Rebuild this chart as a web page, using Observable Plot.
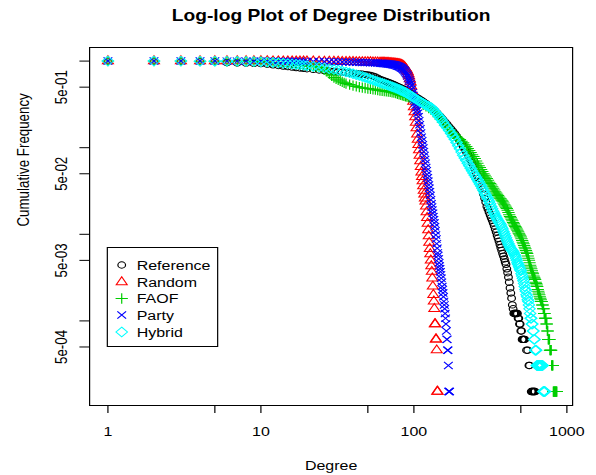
<!DOCTYPE html>
<html><head><meta charset="utf-8">
<script src="https://cdn.jsdelivr.net/npm/d3@7"></script>
<script src="https://cdn.jsdelivr.net/npm/@observablehq/plot@0.6"></script>
<style>
html,body{margin:0;padding:0;background:#fff;}
#wrap{position:relative;width:497px;height:475px;transform:scaleX(1.1992);transform-origin:0 0;font-family:"Liberation Sans",Arial,Helvetica,sans-serif;}
#legend{position:absolute;left:89.2px;top:247px;width:92.6px;height:100px;border:1px solid #000;box-sizing:border-box;background:#fff;}
#legend svg{display:block;}
</style></head><body><div id="wrap"></div>
<script>
const titleText = "Log-log Plot of Degree Distribution";
const xLabel = "Degree";
const yLabel = "Cumulative Frequency";
const xTicks = [1, 5, 10, 50, 100, 500, 1000];
const yTicks = [1, 0.5, 0.1, 0.05, 0.01, 0.005, 0.001, 0.0005];
const yLabelValues = [0.5, 0.05, 0.005, 0.0005];
const yLabelTexts = ["5e-01", "5e-02", "5e-03", "5e-04"];
const seriesNames = ["Reference", "Random", "FAOF", "Party", "Hybrid"];
const seriesColors = ["#000000", "#ff0000", "#00cd00", "#0000ff", "#00ffff"];
const seriesSymbols = ["circle", "triangle", "plus", "times", "diamond2"];
const seriesRadius = [3.2, 3.4, 3.4, 3.4, 4.3];

// [degree, cumulative frequency]
const reference = [[1,1],[2,0.998],[3,0.995],[4,0.99],[5,0.984],[6,0.96],[7,0.952],[8,0.946],[9,0.94],[10,0.934],[11,0.92],[12,0.905],[13,0.89],[14,0.876],[15,0.863],[16,0.851],[17,0.841],[18,0.832],[19,0.824],[20,0.816],[22,0.802],[24,0.79],[26,0.778],[28,0.768],[30,0.758],[32,0.75],[34,0.743],[36,0.735],[38,0.728],[40,0.722],[42,0.716],[44,0.71],[46,0.704],[48,0.698],[50,0.691],[52,0.683],[54,0.671],[56,0.655],[58,0.636],[60,0.615],[62,0.603],[64,0.591],[66,0.579],[68,0.567],[70,0.555],[72,0.544],[74,0.533],[76,0.522],[78,0.511],[80,0.5],[82,0.49],[84,0.48],[86,0.47],[88,0.46],[90,0.45],[92,0.44],[94,0.43],[96,0.42],[98,0.41],[100,0.4],[103,0.387],[106,0.374],[109,0.362],[112,0.351],[115,0.34],[118,0.329],[121,0.319],[124,0.309],[127,0.3],[130,0.29],[133,0.28],[136,0.27],[139,0.26],[142,0.25],[145,0.24],[148,0.231],[151,0.222],[155,0.211],[160,0.198],[165,0.186],[170,0.174],[175,0.164],[180,0.154],[185,0.145],[190,0.136],[195,0.127],[200,0.119],[205,0.111],[210,0.103],[215,0.096],[220,0.09],[225,0.084],[230,0.078],[235,0.072],[240,0.067],[245,0.062],[250,0.057],[255,0.052],[260,0.048],[265,0.044],[270,0.04],[275,0.036],[280,0.033],[285,0.029],[290,0.026],[295,0.0235],[300,0.021],[305,0.0195],[310,0.018],[315,0.0167],[320,0.0155],[325,0.0145],[330,0.0135],[335,0.0125],[340,0.0115],[345,0.0106],[350,0.0097],[355,0.009],[360,0.0083],[365,0.0076],[370,0.007],[375,0.0065],[380,0.006],[385,0.0056],[390,0.0052],[395,0.0048],[400,0.0045],[405,0.004],[410,0.0036],[415,0.0032],[420,0.0028],[425,0.0024],[430,0.0021],[435,0.00183],[440,0.00153],[445,0.00138],[450,0.00122],[454,0.00122],[458,0.00122],[462,0.00122],[466,0.00122],[470,0.00122],[475,0.00122],[480,0.00107],[485,0.00107],[490,0.00092],[495,0.00092],[500,0.000765],[505,0.000765],[510,0.000612],[514,0.000612],[518,0.000612],[522,0.000612],[526,0.000612],[530,0.000612],[545,0.000459],[555,0.000459],[565,0.000306],[570,0.000306],[585,0.000153],[590,0.000153],[595,0.000153],[600,0.000153],[605,0.000153],[610,0.000153],[615,0.000153],[620,0.000153]];

const random = [[1,1],[2,1],[3,1],[4,1],[5,1],[6,0.999],[7,0.999],[8,0.999],[9,0.998],[10,0.998],[11,0.998],[12,0.997],[13,0.997],[14,0.996],[15,0.996],[16,0.995],[17,0.995],[18,0.994],[19,0.994],[20,0.993],[22,0.992],[24,0.99],[26,0.989],[28,0.988],[30,0.986],[32,0.985],[34,0.984],[36,0.982],[38,0.981],[40,0.98],[42,0.978],[44,0.977],[46,0.976],[48,0.975],[50,0.973],[52,0.972],[54,0.97],[56,0.968],[58,0.966],[60,0.964],[61,0.963],[62,0.962],[63,0.96],[64,0.959],[65,0.957],[66,0.956],[67,0.954],[68,0.953],[69,0.951],[70,0.949],[71,0.947],[72,0.945],[73,0.943],[74,0.941],[75,0.938],[76,0.936],[77,0.933],[78,0.93],[79,0.926],[80,0.922],[81,0.917],[82,0.911],[83,0.904],[84,0.895],[85,0.884],[86,0.87],[87,0.852],[88,0.83],[89,0.806],[90,0.78],[91,0.75],[92,0.71],[93,0.67],[94,0.62],[95,0.57],[96,0.51],[97,0.45],[98,0.39],[99,0.34],[100,0.295],[101,0.258],[102,0.225],[103,0.195],[104,0.168],[105,0.143],[106,0.124],[107,0.108],[108,0.094],[109,0.081],[110,0.07],[111,0.06],[112,0.052],[113,0.046],[114,0.041],[115,0.036],[116,0.032],[117,0.029],[118,0.026],[119,0.024],[120,0.021],[121,0.018],[122,0.0155],[123,0.0133],[124,0.0112],[125,0.0095],[126,0.008],[127,0.0068],[128,0.0059],[129,0.005],[130,0.0043],[131,0.0037],[132,0.0031],[133,0.0025],[134,0.002],[135,0.00168],[136,0.00138],[137,0.00092],[138,0.00092],[139,0.000612],[140,0.000612],[141,0.000459],[142,0.000153],[143,0.000153]];

const faof = [[1,1],[2,1],[3,0.999],[4,0.998],[5,0.997],[6,0.995],[7,0.993],[8,0.99],[9,0.987],[10,0.983],[11,0.975],[12,0.966],[13,0.957],[14,0.948],[15,0.938],[16,0.928],[17,0.918],[18,0.908],[19,0.898],[20,0.888],[21,0.878],[22,0.868],[23,0.859],[24,0.85],[25,0.83],[26,0.8],[27,0.76],[28,0.71],[29,0.675],[30,0.645],[31,0.622],[32,0.605],[33,0.589],[34,0.575],[35,0.562],[36,0.55],[38,0.535],[40,0.52],[42,0.509],[44,0.5],[46,0.493],[48,0.487],[50,0.482],[52,0.477],[54,0.472],[56,0.467],[58,0.461],[60,0.456],[62,0.453],[64,0.45],[66,0.446],[68,0.443],[70,0.44],[72,0.436],[74,0.432],[76,0.426],[78,0.419],[80,0.412],[82,0.406],[84,0.401],[86,0.396],[88,0.392],[90,0.388],[92,0.384],[94,0.38],[96,0.375],[98,0.368],[100,0.36],[105,0.344],[110,0.328],[115,0.313],[120,0.299],[125,0.287],[130,0.276],[135,0.262],[140,0.245],[145,0.228],[150,0.212],[155,0.197],[160,0.183],[165,0.172],[170,0.162],[175,0.153],[180,0.145],[185,0.138],[190,0.132],[195,0.128],[200,0.124],[205,0.119],[210,0.114],[215,0.108],[220,0.103],[225,0.098],[230,0.093],[235,0.088],[240,0.083],[245,0.079],[250,0.075],[255,0.07],[260,0.066],[265,0.062],[270,0.059],[275,0.056],[280,0.053],[285,0.05],[290,0.048],[295,0.046],[300,0.044],[305,0.042],[310,0.04],[315,0.0385],[320,0.037],[325,0.0355],[330,0.034],[335,0.0325],[340,0.031],[345,0.03],[350,0.029],[355,0.028],[360,0.027],[365,0.026],[370,0.0255],[375,0.0248],[380,0.024],[385,0.023],[390,0.022],[395,0.0212],[400,0.0205],[405,0.0198],[410,0.019],[415,0.0179],[420,0.0168],[425,0.0161],[430,0.0155],[435,0.0149],[440,0.0143],[445,0.0137],[450,0.0132],[455,0.0127],[460,0.0123],[465,0.0119],[470,0.0115],[475,0.0111],[480,0.0107],[485,0.0103],[490,0.01],[495,0.0096],[500,0.0093],[505,0.0089],[510,0.0085],[515,0.0081],[520,0.0078],[525,0.0074],[530,0.0071],[535,0.0068],[540,0.0065],[545,0.0062],[550,0.006],[555,0.0056],[560,0.0053],[565,0.005],[570,0.0047],[575,0.0044],[580,0.0042],[585,0.004],[590,0.0038],[595,0.0036],[600,0.0035],[605,0.0033],[610,0.0032],[615,0.0031],[620,0.003],[625,0.0028],[630,0.0027],[635,0.0026],[640,0.0025],[645,0.0023],[650,0.0022],[655,0.0021],[660,0.002],[665,0.0019],[670,0.00183],[675,0.00175],[680,0.00168],[685,0.00168],[690,0.00153],[695,0.00153],[700,0.00138],[705,0.00138],[710,0.00122],[715,0.00122],[720,0.00107],[725,0.00107],[730,0.00107],[735,0.00092],[740,0.00092],[745,0.000765],[750,0.000765],[755,0.000612],[760,0.000612],[765,0.000612],[770,0.000612],[775,0.000459],[780,0.000459],[785,0.000459],[790,0.000459],[795,0.000306],[800,0.000306],[805,0.000306],[810,0.000306],[815,0.000153],[820,0.000153],[825,0.000153],[830,0.000153],[835,0.000153],[840,0.000153],[845,0.000153],[850,0.000153],[855,0.000153],[860,0.000153]];

const party = [[1,1],[2,1],[3,1],[4,1],[5,1],[6,0.999],[7,0.999],[8,0.999],[9,0.998],[10,0.998],[11,0.997],[12,0.997],[13,0.996],[14,0.995],[15,0.995],[16,0.994],[17,0.994],[18,0.993],[19,0.992],[20,0.991],[22,0.99],[24,0.988],[26,0.986],[28,0.984],[30,0.982],[32,0.98],[34,0.978],[36,0.976],[38,0.974],[40,0.972],[42,0.97],[44,0.968],[46,0.966],[48,0.963],[50,0.961],[52,0.958],[54,0.955],[56,0.952],[58,0.949],[60,0.945],[61,0.944],[62,0.942],[63,0.94],[64,0.938],[65,0.935],[66,0.933],[67,0.93],[68,0.928],[69,0.925],[70,0.922],[71,0.918],[72,0.915],[73,0.91],[74,0.905],[75,0.9],[76,0.894],[77,0.887],[78,0.88],[79,0.872],[80,0.864],[81,0.855],[82,0.845],[83,0.833],[84,0.82],[85,0.806],[86,0.79],[87,0.771],[88,0.75],[89,0.726],[90,0.7],[91,0.671],[92,0.64],[93,0.61],[94,0.58],[95,0.55],[96,0.52],[97,0.475],[98,0.43],[99,0.4],[100,0.375],[101,0.352],[102,0.33],[103,0.31],[104,0.29],[105,0.27],[106,0.25],[107,0.227],[108,0.205],[109,0.184],[110,0.165],[111,0.148],[112,0.132],[113,0.12],[114,0.108],[115,0.099],[116,0.09],[117,0.081],[118,0.073],[119,0.066],[120,0.059],[121,0.054],[122,0.049],[123,0.045],[124,0.041],[125,0.037],[126,0.034],[127,0.031],[128,0.028],[129,0.025],[130,0.0225],[131,0.0207],[132,0.019],[133,0.0175],[134,0.016],[135,0.0147],[136,0.0135],[137,0.0122],[138,0.011],[139,0.0098],[140,0.0088],[141,0.0078],[142,0.0069],[143,0.0061],[144,0.0057],[145,0.0052],[146,0.0047],[147,0.0043],[148,0.004],[149,0.0037],[150,0.0034],[151,0.0031],[152,0.0028],[153,0.0025],[154,0.0023],[155,0.0021],[156,0.0019],[157,0.00168],[158,0.00153],[159,0.00138],[160,0.00122],[161,0.00107],[162,0.00092],[163,0.000765],[164,0.000612],[165,0.000612],[166,0.000459],[167,0.000459],[168,0.000306],[169,0.000153],[170,0.000153],[171,0.000153]];

const hybrid = [[1,1],[2,1],[3,0.999],[4,0.998],[5,0.997],[6,0.995],[7,0.993],[8,0.99],[9,0.988],[10,0.985],[11,0.975],[12,0.965],[13,0.955],[14,0.945],[15,0.935],[16,0.925],[17,0.915],[18,0.905],[19,0.895],[20,0.885],[22,0.868],[24,0.852],[26,0.835],[28,0.815],[30,0.8],[32,0.784],[34,0.767],[36,0.75],[38,0.732],[40,0.715],[42,0.697],[44,0.68],[46,0.664],[48,0.648],[50,0.633],[52,0.618],[54,0.604],[56,0.59],[58,0.577],[60,0.565],[62,0.555],[64,0.545],[66,0.535],[68,0.525],[70,0.515],[72,0.506],[74,0.497],[76,0.488],[78,0.479],[80,0.47],[82,0.461],[84,0.452],[86,0.443],[88,0.434],[90,0.425],[92,0.415],[94,0.405],[96,0.396],[98,0.387],[100,0.378],[103,0.365],[106,0.353],[109,0.343],[112,0.334],[115,0.325],[118,0.316],[121,0.308],[124,0.302],[127,0.296],[130,0.29],[133,0.279],[136,0.266],[139,0.254],[142,0.243],[145,0.232],[148,0.222],[151,0.212],[155,0.198],[160,0.182],[165,0.17],[170,0.158],[175,0.146],[180,0.135],[185,0.125],[190,0.115],[195,0.105],[200,0.097],[205,0.089],[210,0.082],[215,0.076],[220,0.071],[225,0.066],[230,0.062],[235,0.058],[240,0.054],[245,0.051],[250,0.048],[255,0.0455],[260,0.043],[265,0.0405],[270,0.038],[275,0.036],[280,0.034],[285,0.032],[290,0.03],[295,0.0285],[300,0.027],[305,0.0255],[310,0.024],[315,0.0225],[320,0.021],[325,0.0197],[330,0.0185],[335,0.0175],[340,0.0165],[345,0.0157],[350,0.015],[355,0.0144],[360,0.0138],[365,0.0133],[370,0.0128],[375,0.0121],[380,0.0115],[385,0.0108],[390,0.0102],[395,0.0096],[400,0.0091],[405,0.0086],[410,0.0082],[415,0.0078],[420,0.0074],[425,0.0071],[430,0.0068],[435,0.0066],[440,0.0065],[445,0.0063],[450,0.0061],[455,0.0058],[460,0.0056],[465,0.0053],[470,0.005],[475,0.0047],[480,0.0045],[485,0.0043],[490,0.0041],[495,0.0039],[500,0.0038],[505,0.0035],[510,0.0033],[515,0.0031],[520,0.0029],[525,0.0027],[530,0.0025],[535,0.0023],[540,0.0022],[545,0.002],[550,0.0019],[555,0.00175],[560,0.00168],[565,0.00153],[570,0.00138],[575,0.00122],[580,0.00107],[585,0.00107],[590,0.00092],[595,0.00092],[600,0.000765],[605,0.000765],[610,0.000612],[615,0.000612],[620,0.000459],[625,0.000459],[630,0.000459],[635,0.000306],[640,0.000306],[645,0.000306],[650,0.000306],[655,0.000306],[660,0.000306],[665,0.000306],[670,0.000306],[675,0.000306],[680,0.000306],[685,0.000306],[690,0.000306],[695,0.000306],[700,0.000153],[705,0.000153],[710,0.000153],[715,0.000153],[720,0.000153]];

const seriesData = [reference, random, faof, party, hybrid];

const FS = 13.33;
const marks = [
  Plot.axisX({ticks: xTicks, tickFormat: d => String(d), tickSize: 8, tickPadding: 13, fontSize: FS, label: null}),
  Plot.axisY({ticks: yTicks, tickSize: 8, tickFormat: () => "", label: null}),
  Plot.text(yLabelValues, {y: d => d, text: (d, i) => yLabelTexts[i], frameAnchor: "left", dx: -23.35, rotate: -90, fontSize: FS, textAnchor: "middle", lineAnchor: "middle"}),
  Plot.text([xLabel], {text: d => d, frameAnchor: "bottom", dy: 60, fontSize: FS, lineAnchor: "middle"}),
  Plot.text([yLabel], {text: d => d, frameAnchor: "left", dx: -54.6, rotate: -90, fontSize: FS, lineAnchor: "middle"}),
  Plot.text([titleText], {text: d => d, frameAnchor: "top", dy: -32, fontSize: 16, fontWeight: "bold", lineAnchor: "middle"})
];
seriesData.forEach((data, k) => {
  marks.push(Plot.dot(data, {x: d => d[0], y: d => d[1], symbol: seriesSymbols[k], r: seriesRadius[k], stroke: seriesColors[k], fill: "none", strokeWidth: 1}));
});
marks.push(Plot.frame({stroke: "black", strokeWidth: 1}));

const chart = Plot.plot({
  width: 497, height: 475,
  marginLeft: 74.22, marginRight: 20.01, marginTop: 47, marginBottom: 70,
  x: {type: "log", domain: [0.759, 1090]},
  y: {type: "log", domain: [1.055e-4, 1.435]},
  style: {fontFamily: "'Liberation Sans', Arial, Helvetica, sans-serif", fontSize: FS + "px", background: "white", color: "black", overflow: "visible"},
  marks
});
const wrap = document.getElementById("wrap");
wrap.appendChild(chart);

// legend
const symMap = {circle: d3.symbolCircle, triangle: d3.symbolTriangle, plus: d3.symbolPlus, times: d3.symbolTimes, diamond2: d3.symbolDiamond2};
const leg = d3.select(wrap).append("div").attr("id", "legend");
const lsvg = leg.append("svg").attr("width", 90.6).attr("height", 98)
  .style("font-family", "'Liberation Sans', Arial, sans-serif").style("font-size", FS + "px");
const rowY = [17, 34, 50.5, 67, 84];
seriesNames.forEach((name, k) => {
  const r = seriesRadius[k];
  lsvg.append("path")
    .attr("transform", `translate(11.5,${rowY[k]})`)
    .attr("d", d3.symbol(symMap[seriesSymbols[k]], Math.PI * r * r)())
    .attr("fill", "none").attr("stroke", seriesColors[k]).attr("stroke-width", 1);
  lsvg.append("text").attr("x", 24).attr("y", rowY[k]).attr("dy", "0.35em").attr("fill", "#000").text(name);
});
</script></body></html>
